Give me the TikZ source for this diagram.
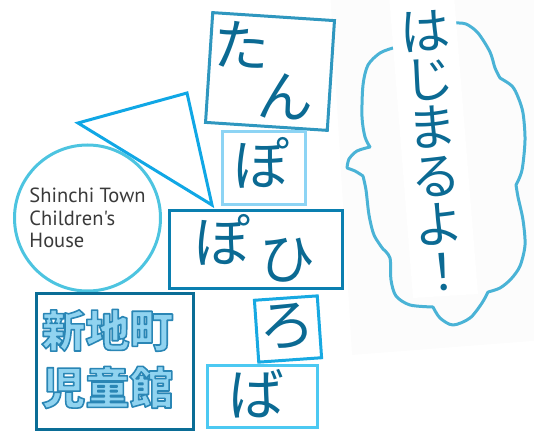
\documentclass[tikz,border=0pt]{standalone}
\usepackage{fontspec}
\newfontfamily\housefont{PT Sans}
\newfontfamily\jpfont{Noto Sans CJK JP}
\usetikzlibrary{positioning}

\definecolor{tanline}{HTML}{2F97BF}
\definecolor{poline}{HTML}{8DD4F4}
\definecolor{pohiline}{HTML}{0A7FB0}
\definecolor{roline}{HTML}{17A9E2}
\definecolor{baline}{HTML}{4CC9F2}
\definecolor{kanline}{HTML}{0A6D96}
\definecolor{kanaink}{HTML}{0B6A93}
\definecolor{kanfill}{HTML}{90D3F0}
\definecolor{triline}{HTML}{10A7E5}
\definecolor{circline}{HTML}{4DC4E0}
\definecolor{cloudline}{HTML}{4AB3D6}
\definecolor{houseink}{HTML}{3A3A3A}
\definecolor{faint}{HTML}{FCFCFC}

% outlined lettering: fill in the current colour, stroke in kanedge
\newcommand\edgetext[1]{\special{pdf:literal 0.165 0.525 0.710 RG 1.6 w 1 j 2 Tr}#1\special{pdf:literal 0 Tr}}

\tikzset{
  kanabox/.style={draw, line width=3pt, inner sep=0pt},
  kana/.style={font=\jpfont\fontsize{56}{56}\selectfont, text=kanaink, inner sep=0pt},
}

\begin{document}
\begin{tikzpicture}[x=1pt,y=-1pt]
  \useasboundingbox (0,0) rectangle (534,438);

  % speech cloud behind the strip
  \fill[faint] (330,-10) -- (352,355) -- (545,340) -- (545,-10) -- cycle;
  \draw[cloudline, line width=3pt, line cap=round, line join=round]
    plot[smooth] coordinates {(393,48) (380,53) (368,65) (363,85) (362,117) (365,137) (370,147)}
    plot[smooth] coordinates {(370,147) (357,151) (349,159) (347,168)}
    plot[smooth] coordinates {(347,168) (355,171) (363,176)}
    plot[smooth] coordinates {(363,176) (366,190) (369,215) (374,235) (383,249)}
    plot[smooth] coordinates {(383,249) (390,258) (391,280) (396,296) (410,305) (433,307)}
    plot[smooth] coordinates {(433,307) (440,318) (453,325) (470,318) (482,303) (488,292)}
    plot[smooth] coordinates {(488,292) (500,288) (511,279) (520,266) (525,245) (523,220) (518,197) (516,185)}
    plot[smooth] coordinates {(516,185) (522,170) (525,140) (523,113) (518,97) (512,86) (500,78)}
    plot[smooth] coordinates {(500,78) (495,68) (490,52) (478,33) (466,24) (454,23)};
  \fill[white] (389,-5) -- (413,298) -- (478,294) -- (454,-5) -- cycle;
  \node[kana, font=\jpfont\fontsize{50}{48.5}\selectfont, align=center, rotate=4.3]
    (hajimaru) at (434,151) {は\\じ\\ま\\る\\よ\\！};

  % pointer and circle
  \draw[triline, line width=3pt, line join=miter] (78,123) -- (187,93) -- (212,205) -- cycle;
  \node[circle, draw=circline, line width=3pt, minimum size=146pt, inner sep=0pt,
        align=left, text=houseink, font=\housefont\fontsize{20.5}{22.5}\selectfont]
    (house) at (87.5,218) {Shinchi Town\\Children's\\House};

  % letter boxes
  \node[kanabox, draw=tanline, minimum width=122pt, minimum height=110pt, rotate=-3.75] (tanbox) at (270,71.5) {};
  \node[kana, rotate=-3.75] (ta) at (242,45) {た};
  \node[kana, rotate=-3.75] (n) at (286,97) {ん};

  \node[kanabox, draw=poline, minimum width=83pt, minimum height=72pt] (pobox) at (263.5,168) {};
  \node[kana] (po) at (261,163) {ぽ};

  \node[kanabox, draw=pohiline, minimum width=173pt, minimum height=78pt] (pohibox) at (255.5,249) {};
  \node[kana] (potwo) at (222,240) {ぽ};
  \node[kana] (hi) at (287,260) {ひ};

  \node[kanabox, draw=roline, minimum width=63pt, minimum height=62pt, rotate=4] (robox) at (288,329) {};
  \node[kana, rotate=4] (ro) at (287,327) {ろ};

  \node[kanabox, draw=baline, minimum width=110pt, minimum height=62pt] (babox) at (262,396) {};
  \node[kana] (ba) at (256,394) {ば};

  % name plate
  \node[kanabox, draw=kanline, minimum width=157pt, minimum height=136pt] (kanbox) at (114.5,361) {};
  \node[inner sep=0pt, align=center, text=kanfill, font=\jpfont\bfseries\fontsize{44}{57}\selectfont]
    (kanji) at (107.5,359) {\edgetext{新地町}\\\edgetext{児童館}};
\end{tikzpicture}
\end{document}
